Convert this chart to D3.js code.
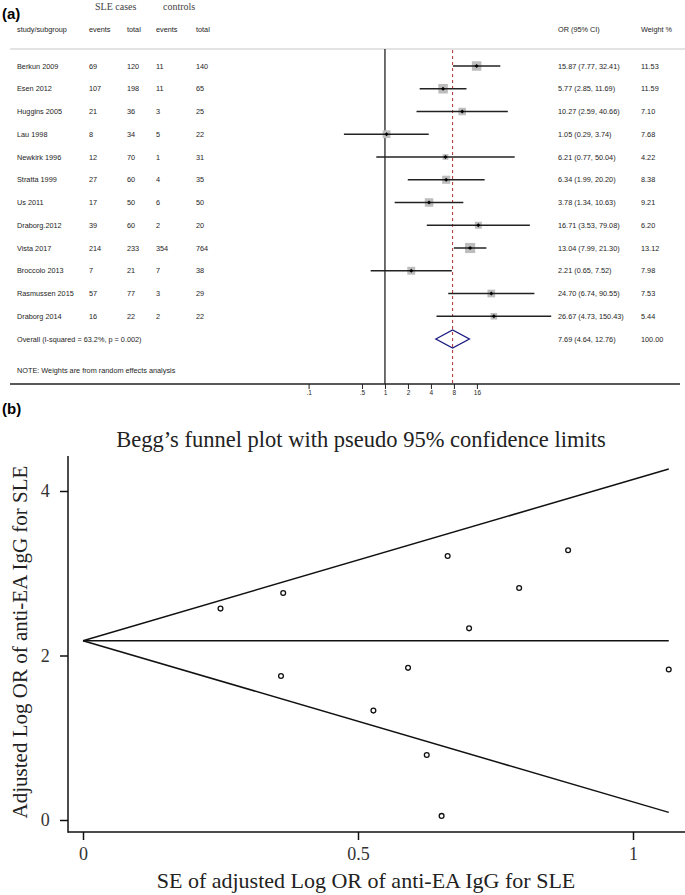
<!DOCTYPE html>
<html><head><meta charset="utf-8">
<script src="https://cdn.jsdelivr.net/npm/d3@7"></script>
<style>body{margin:0;background:#fff}svg{display:block}</style>
</head><body>
<script>
// ---------- data: forest plot ----------
const studies = ["Berkun 2009","Esen 2012","Huggins 2005","Lau 1998","Newkirk 1996","Stratta 1999","Us 2011","Draborg.2012","Vista 2017","Broccolo 2013","Rasmussen 2015","Draborg 2014"];
const caseEvents = [69,107,21,8,12,27,17,39,214,7,57,16];
const caseTotal = [120,198,36,34,70,60,50,60,233,21,77,22];
const ctrlEvents = [11,11,3,5,1,4,6,2,354,7,3,2];
const ctrlTotal = [140,65,25,22,31,35,50,20,764,38,29,22];
const orVal = [15.87,5.77,10.27,1.05,6.21,6.34,3.78,16.71,13.04,2.21,24.70,26.67];
const orLow = [7.77,2.85,2.59,0.29,0.77,1.99,1.34,3.53,7.99,0.65,6.74,4.73];
const orHigh = [32.41,11.69,40.66,3.74,50.04,20.20,10.63,79.08,21.30,7.52,90.55,150.43];
const weights = [11.53,11.59,7.10,7.68,4.22,8.38,9.21,6.20,13.12,7.98,7.53,5.44];
const overall = {or:7.69, low:4.64, high:12.76, weight:100.00, label:"Overall  (I-squared = 63.2%, p = 0.002)"};
const forestTicks = [0.1,0.5,1,2,4,8,16];
const forestTickLabels = [".1",".5","1","2","4","8","16"];

// ---------- data: funnel plot ----------
const funnelSE = [0.364,0.360,0.702,0.652,1.065,0.591,0.528,0.793,0.250,0.625,0.663,0.882];
const funnelLogOR = [2.76,1.75,2.33,0.05,1.83,1.85,1.33,2.82,2.57,0.79,3.21,3.28];
const pooledLogOR = 2.18;
const funnelXTicks = [0,0.5,1];
const funnelXTickLabels = ["0","0.5","1"];
const funnelYTicks = [0,2,4];
const funnelYTickLabels = ["0","2","4"];

const W = 685, H = 895;
const svg = d3.select("body").append("svg").attr("width",W).attr("height",H);
const sans = "Liberation Sans, Arial, sans-serif";
const serif = "Liberation Serif, Times New Roman, serif";

// ===== Panel (a) =====
const A = svg.append("g");
A.append("text").attr("x",2).attr("y",19).attr("font-family",sans).attr("font-weight","bold").attr("font-size",15).text("(a)");
A.append("text").attr("x",95).attr("y",10).attr("font-family",serif).attr("font-size",10).attr("fill","#444").text("SLE cases");
A.append("text").attr("x",163).attr("y",10).attr("font-family",serif).attr("font-size",10).attr("fill","#444").text("controls");

const fs = 7.3;
const txtCol = "#1e1e1e";
const colX = [17,89,127,156,196];
const hdr = ["study/subgroup","events","total","events","total"];
hdr.forEach((t,i)=>A.append("text").attr("x",colX[i]).attr("y",32).attr("font-family",sans).attr("font-size",fs).attr("fill",txtCol).text(t));
A.append("text").attr("x",558).attr("y",32).attr("font-family",sans).attr("font-size",fs).attr("fill",txtCol).text("OR (95% CI)");
A.append("text").attr("x",641).attr("y",32).attr("font-family",sans).attr("font-size",fs).attr("fill",txtCol).text("Weight  %");

A.append("line").attr("x1",10).attr("x2",685).attr("y1",49).attr("y2",49).attr("stroke","#c8c8c8").attr("stroke-width",1.2);

const xF = d3.scaleLog().domain([0.1,16]).range([308.6,476.9]);
const yRow = d3.scaleLinear().domain([0,12]).range([66,339]);

// reference lines
A.append("line").attr("x1",xF(1)).attr("x2",xF(1)).attr("y1",49).attr("y2",384).attr("stroke","#111").attr("stroke-width",1.2);
A.append("line").attr("x1",xF(overall.or)).attr("x2",xF(overall.or)).attr("y1",50).attr("y2",384).attr("stroke","#b03030").attr("stroke-width",1).attr("stroke-dasharray","3,3");

const f2 = d3.format(".2f");
studies.forEach((s,i)=>{
  const y = yRow(i);
  const vals = [s,caseEvents[i],caseTotal[i],ctrlEvents[i],ctrlTotal[i]];
  vals.forEach((v,j)=>A.append("text").attr("x",colX[j]).attr("y",y+2.6).attr("font-family",sans).attr("font-size",fs).attr("fill",txtCol).text(v));
  A.append("text").attr("x",558).attr("y",y+2.6).attr("font-family",sans).attr("font-size",fs).attr("fill",txtCol)
    .text(`${f2(orVal[i])} (${f2(orLow[i])}, ${f2(orHigh[i])})`);
  A.append("text").attr("x",641).attr("y",y+2.6).attr("font-family",sans).attr("font-size",fs).attr("fill",txtCol).text(f2(weights[i]));
  const side = 2.8*Math.sqrt(weights[i]);
  A.append("rect").attr("x",xF(orVal[i])-side/2).attr("y",y-side/2).attr("width",side).attr("height",side).attr("fill","#bdbdbd");
  A.append("line").attr("x1",xF(orLow[i])).attr("x2",xF(orHigh[i])).attr("y1",y).attr("y2",y).attr("stroke","#222").attr("stroke-width",1.3);
  const cx = xF(orVal[i]);
  A.append("path").attr("d",`M${cx-2},${y}L${cx},${y-2}L${cx+2},${y}L${cx},${y+2}Z`).attr("fill","#000");
});

// overall
const yo = yRow(12);
A.append("text").attr("x",17).attr("y",yo+2.6).attr("font-family",sans).attr("font-size",fs).attr("fill",txtCol).text(overall.label);
A.append("text").attr("x",558).attr("y",yo+2.6).attr("font-family",sans).attr("font-size",fs).attr("fill",txtCol)
  .text(`${f2(overall.or)} (${f2(overall.low)}, ${f2(overall.high)})`);
A.append("text").attr("x",641).attr("y",yo+2.6).attr("font-family",sans).attr("font-size",fs).attr("fill",txtCol).text(f2(overall.weight));
A.append("path").attr("d",`M${xF(overall.low)},${yo}L${xF(overall.or)},${yo-9}L${xF(overall.high)},${yo}L${xF(overall.or)},${yo+9}Z`)
  .attr("fill","none").attr("stroke","#1a1a80").attr("stroke-width",1.3);

A.append("text").attr("x",17).attr("y",373).attr("font-family",sans).attr("font-size",fs).attr("fill",txtCol).text("NOTE: Weights are from random effects analysis");

// axis
A.append("line").attr("x1",10).attr("x2",680).attr("y1",384).attr("y2",384).attr("stroke","#222").attr("stroke-width",1.3);
const axF = d3.axisBottom(xF).tickValues(forestTicks).tickFormat((d,i)=>forestTickLabels[i]).tickSize(5).tickSizeOuter(0);
const gAx = A.append("g").attr("transform","translate(0,384)").call(axF);
gAx.select(".domain").remove();
gAx.selectAll(".tick line").attr("stroke","#222").attr("stroke-width",1);
gAx.selectAll(".tick text").attr("font-family",sans).attr("font-size",6.5).attr("fill",txtCol).attr("dy","0.5em");

// ===== Panel (b) =====
const B = svg.append("g");
B.append("text").attr("x",2).attr("y",414).attr("font-family",sans).attr("font-weight","bold").attr("font-size",15).text("(b)");
B.append("text").attr("x",361).attr("y",447).attr("text-anchor","middle").attr("font-family",serif).attr("font-size",22.5).attr("fill","#222")
  .text("Begg\u2019s funnel plot with pseudo 95% confidence limits");

const xS = d3.scaleLinear().domain([0,1]).range([83,633]);
const yS = d3.scaleLinear().domain([0,4]).range([820,491]);

// axes
const axX = d3.axisBottom(xS).tickValues(funnelXTicks).tickFormat((d,i)=>funnelXTickLabels[i]).tickSize(8).tickSizeOuter(0);
const gX = B.append("g").attr("transform","translate(0,832)").call(axX);
gX.select(".domain").remove();
B.append("line").attr("x1",68).attr("x2",685).attr("y1",832).attr("y2",832).attr("stroke","#111").attr("stroke-width",1.5);
gX.selectAll(".tick line").attr("stroke","#111").attr("stroke-width",1.5);
gX.selectAll(".tick text").attr("font-family",serif).attr("font-size",18).attr("fill","#333").attr("dy","0.95em");

const axY = d3.axisLeft(yS).tickValues(funnelYTicks).tickFormat((d,i)=>funnelYTickLabels[i]).tickSize(8).tickSizeOuter(0);
const gY = B.append("g").attr("transform","translate(68,0)").call(axY);
gY.select(".domain").remove();
B.append("line").attr("x1",68).attr("x2",68).attr("y1",456).attr("y2",832.7).attr("stroke","#111").attr("stroke-width",1.5);
gY.selectAll(".tick line").attr("stroke","#111").attr("stroke-width",1.5);
gY.selectAll(".tick text").attr("font-family",serif).attr("font-size",18).attr("fill","#333").attr("dx","-0.4em");

B.append("text").attr("transform","translate(27,642) rotate(-90)").attr("text-anchor","middle").attr("font-family",serif).attr("font-size",21).attr("fill","#222")
  .text("Adjusted Log OR of anti-EA IgG for SLE");
B.append("text").attr("x",366).attr("y",888).attr("text-anchor","middle").attr("font-family",serif).attr("font-size",22).attr("fill","#222")
  .text("SE of adjusted Log OR of anti-EA IgG for SLE");

// funnel lines
const maxSE = d3.max(funnelSE);
const line = d3.line().x(d=>xS(d[0])).y(d=>yS(d[1]));
const lines = [
  [[0,pooledLogOR],[maxSE,pooledLogOR+1.96*maxSE]],
  [[0,pooledLogOR],[maxSE,pooledLogOR]],
  [[0,pooledLogOR],[maxSE,pooledLogOR-1.96*maxSE]]
];
lines.forEach(l=>B.append("path").attr("d",line(l)).attr("fill","none").attr("stroke","#111").attr("stroke-width",1.5));

funnelSE.forEach((s,i)=>{
  B.append("circle").attr("cx",xS(s)).attr("cy",yS(funnelLogOR[i])).attr("r",2.4).attr("fill","none").attr("stroke","#111").attr("stroke-width",1.3);
});
</script>
</body></html>
